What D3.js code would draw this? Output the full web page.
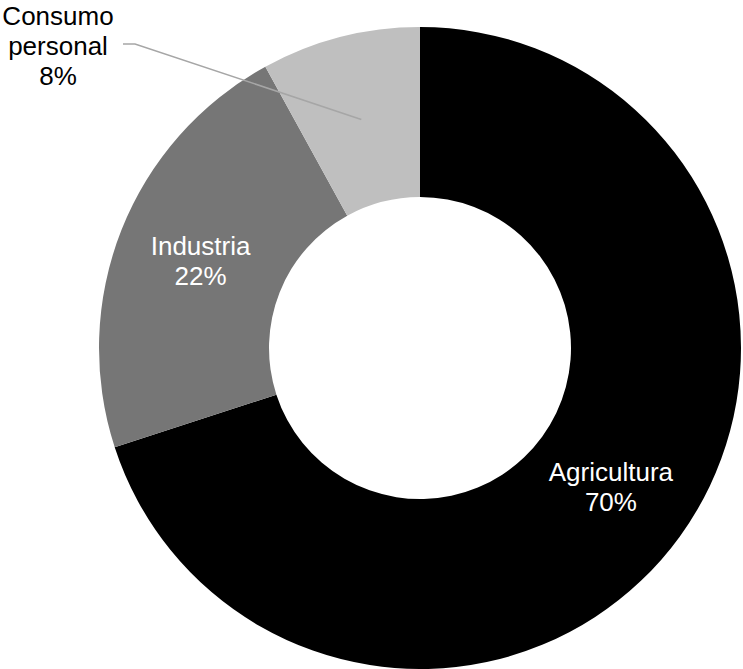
<!DOCTYPE html>
<html>
<head>
<meta charset="utf-8">
<script src="https://cdn.jsdelivr.net/npm/d3@7"></script>
<style>
  html, body { margin: 0; padding: 0; background: #ffffff; }
  svg text { font-family: "Liberation Sans", Arial, sans-serif; }
</style>
</head>
<body>
<svg id="chart" width="743" height="669"></svg>
<script>
// Destino del uso del agua (porcentaje)
const categories = ["Agricultura", "Industria", "Consumo personal"];
const values = [70, 22, 8];
const colors = ["#000000", "#767676", "#bfbfbf"];
const labelLines = [["Agricultura", "70%"], ["Industria", "22%"], ["Consumo", "personal", "8%"]];

const width = 743, height = 669;
const cx = 420, cy = 348;
const outerR = 321, innerR = 151;

const svg = d3.select("#chart");
const g = svg.append("g").attr("transform", `translate(${cx},${cy})`);

const pie = d3.pie().sort(null).value(d => d.value);
const arcs = pie(categories.map((c, i) => ({ name: c, value: values[i], color: colors[i], lines: labelLines[i] })));

const arc = d3.arc().innerRadius(innerR).outerRadius(outerR);

g.selectAll("path.slice")
  .data(arcs)
  .join("path")
  .attr("class", "slice")
  .attr("d", arc)
  .attr("fill", d => d.data.color);

const fontSize = 26, lineH = 30, capHalf = 9;

function multiline(x, y, lines, fill) {
  const n = lines.length;
  const t = g.append("text")
    .attr("text-anchor", "middle")
    .attr("font-size", fontSize)
    .attr("fill", fill);
  lines.forEach((line, i) => {
    t.append("tspan")
      .attr("x", x)
      .attr("y", y + (i - (n - 1) / 2) * lineH + capHalf)
      .text(line);
  });
}

// Labels inside the ring for the larger slices
arcs.filter(d => d.data.value >= 15).forEach(d => {
  const [x, y] = arc.centroid(d);
  multiline(x, y, d.data.lines, "#ffffff");
});

// Small slice: label outside with a leader line
arcs.filter(d => d.data.value < 15).forEach(d => {
  const [x, y] = arc.centroid(d);
  const labelX = 58 - cx, labelMidY = 46 - cy;
  const elbowStart = [123 - cx, 44 - cy], elbowEnd = [135 - cx, 44 - cy];
  g.append("polyline")
    .attr("points", [elbowStart, elbowEnd, [x, y]].map(p => p.join(",")).join(" "))
    .attr("fill", "none")
    .attr("stroke", "#a6a6a6")
    .attr("stroke-width", 1.5);
  multiline(labelX, labelMidY, d.data.lines, "#000000");
});
</script>
</body>
</html>
